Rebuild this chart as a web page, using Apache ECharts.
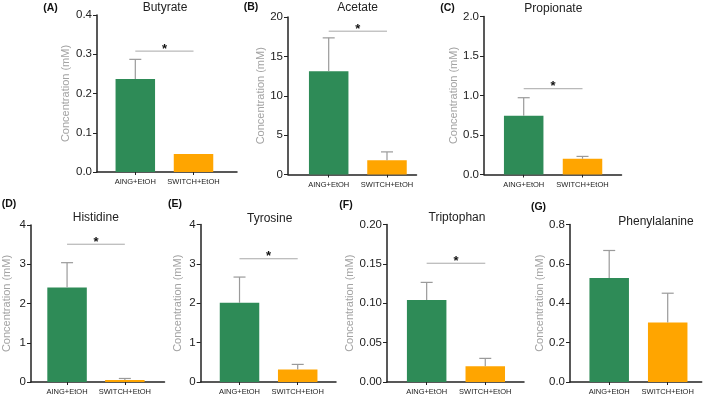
<!DOCTYPE html>
<html><head><meta charset="utf-8">
<script src="https://cdn.jsdelivr.net/npm/echarts@6/dist/echarts.min.js"></script>
<style>html,body{margin:0;padding:0;background:#fff}#c{width:709px;height:396px}</style>
</head><body><div id="c"></div>
<script>
// ---- data ----
const categories = ['AING+EtOH', 'SWITCH+EtOH'];
const panelLetters = ['(A)', '(B)', '(C)', '(D)', '(E)', '(F)', '(G)'];
const panelTitles = ['Butyrate', 'Acetate', 'Propionate', 'Histidine', 'Tyrosine', 'Triptophan', 'Phenylalanine'];
const aingMeans = [0.237, 13.1, 0.745, 2.41, 2.01, 0.104, 0.528];
const aingErrors = [0.050, 4.25, 0.227, 0.63, 0.655, 0.0225, 0.14];
const switchMeans = [0.046, 1.80, 0.199, 0.05, 0.32, 0.020, 0.302];
const switchErrors = [0.0, 1.07, 0.030, 0.04, 0.127, 0.010, 0.149];
const yMax = [0.4, 20, 2.0, 4, 4, 0.20, 0.8];
const yInterval = [0.1, 5, 0.5, 1, 1, 0.05, 0.2];
const yDecimals = [1, 0, 1, 0, 0, 2, 1];
const sigHeights = [0.308, 18.2, 1.086, 3.51, 3.13, 0.1508, null];
const yAxisName = 'Concentration (mM)';

// ---- layout / style ----
const layout = [
  {l: 97,    t: 15,    w: 140,   h: 157,   xmin: -0.658, xmax: 1.747, gap: 26, title: [165, 7.5],   letter: [50.5, 8]},
  {l: 288,   t: 17,    w: 128.5, h: 157.5, xmin: -0.698, xmax: 1.506, gap: 18, title: [357.7, 7.5], letter: [251, 7.5]},
  {l: 484,   t: 16.5,  w: 137.5, h: 158,   xmin: -0.675, xmax: 1.663, gap: 23, title: [553.3, 8.5], letter: [447.5, 8]},
  {l: 30.5,  t: 225,   w: 134,   h: 157.7, xmin: -0.624, xmax: 1.686, gap: 19, title: [95.8, 217.5], letter: [9, 204]},
  {l: 200.7, t: 224.5, w: 135.3, h: 158.2, xmin: -0.667, xmax: 1.658, gap: 17, title: [269.7, 219],  letter: [175, 204]},
  {l: 387,   t: 224.5, w: 137,   h: 158.2, xmin: -0.677, xmax: 1.661, gap: 30, title: [457, 218],    letter: [346, 205]},
  {l: 570,   t: 224.5, w: 131.7, h: 158.2, xmin: -0.670, xmax: 1.581, gap: 23, title: [656, 222],    letter: [538.5, 207]}
];
const FONT = '"Liberation Sans", Arial, Helvetica, sans-serif';
const GREEN = '#2e8b57', ORANGE = '#ffa500', ERR = '#9a9a9a', AXIS = '#222';

const grids = [], xAxes = [], yAxes = [], series = [], graphics = [];

function errRender(params, api) {
  const x = api.value(0), lo = api.value(1), hi = api.value(2);
  const p0 = api.coord([x, lo]), p1 = api.coord([x, hi]);
  return {type: 'group', children: [
    {type: 'line', shape: {x1: p0[0], y1: p0[1], x2: p1[0], y2: p1[1]}, style: {stroke: ERR, lineWidth: 1.2}},
    {type: 'line', shape: {x1: p1[0] - 6, y1: p1[1], x2: p1[0] + 6, y2: p1[1]}, style: {stroke: ERR, lineWidth: 1.2}}
  ]};
}
function sigRender(params, api) {
  const a = api.coord([api.value(0), api.value(2)]);
  const b = api.coord([api.value(1), api.value(2)]);
  return {type: 'group', children: [
    {type: 'line', shape: {x1: a[0], y1: a[1], x2: b[0], y2: b[1]}, style: {stroke: '#a8a8a8', lineWidth: 1}},
    {type: 'text', x: (a[0] + b[0]) / 2, y: a[1] - 2,
     style: {text: '*', fill: '#111', font: 'bold 13px ' + FONT, textAlign: 'center', textVerticalAlign: 'middle'}}
  ]};
}

layout.forEach((L, i) => {
  grids.push({left: L.l, top: L.t, width: L.w, height: L.h, containLabel: false});
  xAxes.push({
    type: 'value', gridIndex: i, min: L.xmin, max: L.xmax,
    splitLine: {show: false},
    axisLine: {show: true, onZero: false, lineStyle: {color: AXIS, width: 1.5}},
    axisTick: {show: true, customValues: [0, 1], length: 3, lineStyle: {color: AXIS, width: 1}},
    axisLabel: {customValues: [0, 1], formatter: v => categories[Math.round(v)] || '',
      fontSize: 7.5, color: '#222', margin: 6, fontFamily: FONT}
  });
  yAxes.push({
    type: 'value', gridIndex: i, min: 0, max: yMax[i], interval: yInterval[i],
    splitLine: {show: false},
    axisLine: {show: true, onZero: false, lineStyle: {color: AXIS, width: 1.5}},
    axisTick: {show: true, length: 4, lineStyle: {color: AXIS, width: 1}},
    axisLabel: {fontSize: 11.5, color: '#222', margin: 5, fontFamily: FONT,
      formatter: v => v.toFixed(yDecimals[i])},
    name: yAxisName, nameLocation: 'middle', nameGap: L.gap,
    nameTextStyle: {color: '#a3a3a3', fontSize: 11, fontFamily: FONT}
  });
  series.push({
    type: 'bar', xAxisIndex: i, yAxisIndex: i, barWidth: 39.5, z: 2,
    data: [
      {value: [0, aingMeans[i]], itemStyle: {color: GREEN}},
      {value: [1, switchMeans[i]], itemStyle: {color: ORANGE}}
    ]
  });
  const errData = [];
  if (aingErrors[i] > 0) errData.push([0, aingMeans[i], aingMeans[i] + aingErrors[i]]);
  if (switchErrors[i] > 0) errData.push([1, switchMeans[i], switchMeans[i] + switchErrors[i]]);
  series.push({
    type: 'custom', xAxisIndex: i, yAxisIndex: i, z: 3, renderItem: errRender,
    encode: {x: 0, y: [1, 2]}, data: errData
  });
  if (sigHeights[i] !== null) {
    series.push({
      type: 'custom', xAxisIndex: i, yAxisIndex: i, z: 3, renderItem: sigRender,
      encode: {x: [0, 1], y: 2}, data: [[0, 1, sigHeights[i]]]
    });
  }
  graphics.push({type: 'text', x: L.title[0], y: L.title[1],
    style: {text: panelTitles[i], fill: '#222', font: '12px ' + FONT, textAlign: 'center', textVerticalAlign: 'middle'}});
  graphics.push({type: 'text', x: L.letter[0], y: L.letter[1],
    style: {text: panelLetters[i], fill: '#111', font: 'bold 10.5px ' + FONT, textAlign: 'center', textVerticalAlign: 'middle'}});
});

const chart = echarts.init(document.getElementById('c'), null, {renderer: 'canvas'});
chart.setOption({
  animation: false,
  backgroundColor: '#fff',
  textStyle: {fontFamily: FONT},
  grid: grids, xAxis: xAxes, yAxis: yAxes, series: series, graphic: graphics
});
</script>
</body></html>
